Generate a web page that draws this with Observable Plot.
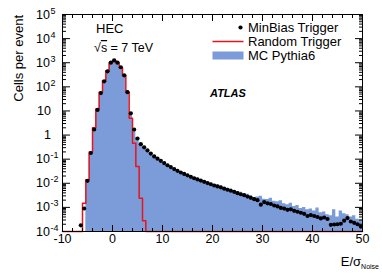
<!DOCTYPE html>
<html><head><meta charset="utf-8">
<script src="https://cdn.jsdelivr.net/npm/d3@7"></script>
<script src="https://cdn.jsdelivr.net/npm/@observablehq/plot@0.6"></script>
<style>body{margin:0;background:#fff;} svg{font-family:"Liberation Sans",Arial,sans-serif;}</style>
</head><body><div id="chart"></div>
<script>
// ---- data (histogram bins of width 2/3 starting at -10) ----
const binStart = -10, binWidth = 2/3, nBins = 90;
const minBiasFirstBin = 5;
const minBias = [1.8e-4, 9e-4, 0.0126, 0.18, 1.7, 11, 55, 170, 440, 1000, 1250, 1000, 650, 300, 60, 8, 1.7,
  0.72, 0.42, 0.31, 0.23, 0.17, 0.13, 0.105, 0.085, 0.069, 0.056, 0.047, 0.039, 0.033, 0.028, 0.0245, 0.0214,
  0.0186, 0.0162, 0.0145, 0.0129, 0.0115, 0.0102, 0.0091, 0.0081, 0.0074, 0.0068, 0.0060, 0.0054, 0.0049, 0.0044,
  0.0039, 0.0035, 0.0032, 0.0028, 0.0025, 0.0022, 0.0020, 0.0013, 0.00166, 0.00148, 0.00138, 0.0012, 0.0011,
  0.00095, 0.00089, 0.00079, 0.00083, 0.00072, 0.00066, 0.0006, 0.00054, 0.00044, 0.00048, 0.00044, 0.0004,
  0.00035, 0.00038, 0.00033, 0.00019, 0.000195, 0.0002, 0.00021, 0.00028, 0.00036, 0.00026, 0.00023, 0.0002, 0.00016];
const randomFirstBin = 6;
const randomTrig = [1.5e-3, 0.014, 0.2, 2.0, 12, 60, 180, 460, 1000, 1250, 1000, 620, 300, 60, 5, 0.46, 0.05, 0.0024, 2.8e-4];
const mcFirstBin = 7;
const mcPythia = [0.012, 0.17, 1.8, 11, 58, 175, 450, 1000, 1250, 1000, 640, 310, 70, 8, 1.6,
  0.75, 0.45, 0.33, 0.25, 0.18, 0.14, 0.11, 0.09, 0.073, 0.06, 0.05, 0.042, 0.035, 0.030, 0.026, 0.023,
  0.020, 0.0178, 0.016, 0.0143, 0.0126, 0.0112, 0.0103, 0.0091, 0.0084, 0.0077, 0.0066, 0.0062, 0.0058, 0.0049,
  0.0046, 0.0042, 0.0036, 0.0035, 0.0031, 0.0026, 0.0027, 0.0029, 0.0022, 0.0021, 0.0024, 0.0018, 0.0017, 0.0019,
  0.0014, 0.0013, 0.0015, 0.0011, 0.0012, 0.0009, 0.0010, 0.0008, 0.00085, 0.0007, 0.00095, 0.0006, 0.00065,
  0.0005, 0.00045, 0.0008, 0.0004, 0.0007, 0.00055, 0.0005, 0.0004, 0.00045, 0.00032, 0.0003];
const xMajorTicks = [-10, 0, 10, 20, 30, 40, 50];
const xMinorTicks = [-8, -6, -4, -2, 2, 4, 6, 8, 12, 14, 16, 18, 22, 24, 26, 28, 32, 34, 36, 38, 42, 44, 46, 48];
const yMajorTicks = [1e-4, 1e-3, 1e-2, 1e-1, 1, 10, 1e2, 1e3, 1e4, 1e5];
const yLabels = [
  {v: 1e5, base: "10", exp: "5"}, {v: 1e4, base: "10", exp: "4"}, {v: 1e3, base: "10", exp: "3"},
  {v: 1e2, base: "10", exp: "2"}, {v: 10, base: "10", exp: ""}, {v: 1, base: "1", exp: ""},
  {v: 1e-1, base: "10", exp: "-1"}, {v: 1e-2, base: "10", exp: "-2"}, {v: 1e-3, base: "10", exp: "-3"},
  {v: 1e-4, base: "10", exp: "-4"}];
const yFloor = 1e-4;

// ---- build tables ----
const yMinorTicks = [];
for (const d of yMajorTicks.slice(0, -1)) for (let m = 2; m <= 9; m++) yMinorTicks.push(m * d);
const edge = k => binStart + k * binWidth;
const mcPts = mcPythia.map((v, i) => ({x: edge(mcFirstBin + i), v}));
mcPts.push({x: edge(mcFirstBin + mcPythia.length), v: mcPythia[mcPythia.length - 1]});
const dots = minBias.map((v, i) => ({x: edge(minBiasFirstBin + i) + binWidth / 2, v}));
const redPts = [];
for (let k = 0; k < nBins; k++) {
  const j = k - randomFirstBin;
  const v = (j >= 0 && j < randomTrig.length) ? randomTrig[j] : 0;
  redPts.push({x: edge(k), v: Math.max(v, yFloor)});
}
redPts.push({x: edge(nBins), v: redPts[redPts.length - 1].v});

const blue = "#7b9cd8", red = "#e8141c";
const noLabel = () => "";
const plot = Plot.plot({
  width: 382, height: 276,
  marginLeft: 62, marginRight: 20, marginTop: 14, marginBottom: 45,
  style: {fontFamily: "Liberation Sans, Arial, sans-serif", fontSize: "12.5px", background: "white"},
  x: {domain: [-10, 50]},
  y: {type: "log", domain: [1e-4, 1e5]},
  marks: [
    Plot.areaY(mcPts, {x: "x", y1: yFloor, y2: "v", curve: "step-after", fill: blue}),
    Plot.line(redPts, {x: "x", y: "v", curve: "step-after", stroke: red, strokeWidth: 1.5}),
    Plot.dot(dots, {x: "x", y: "v", r: 2.1, fill: "black"}),
    Plot.frame({stroke: "black", strokeWidth: 1}),
    Plot.axisX({anchor: "bottom", ticks: xMajorTicks, tickSize: -6, tickPadding: 9, tickFormat: d => String(d), label: null, fontSize: 12.5}),
    Plot.axisX({anchor: "bottom", ticks: xMinorTicks, tickSize: -3, tickFormat: noLabel, label: null}),
    Plot.axisX({anchor: "top", ticks: xMajorTicks, tickSize: -6, tickFormat: noLabel, label: null}),
    Plot.axisX({anchor: "top", ticks: xMinorTicks, tickSize: -3, tickFormat: noLabel, label: null}),
    Plot.axisY({anchor: "left", ticks: yMajorTicks, tickSize: -8, tickFormat: noLabel, label: null}),
    Plot.axisY({anchor: "left", ticks: yMinorTicks, tickSize: -4, tickFormat: noLabel, label: null}),
    Plot.axisY({anchor: "right", ticks: yMajorTicks, tickSize: -8, tickFormat: noLabel, label: null}),
    Plot.axisY({anchor: "right", ticks: yMinorTicks, tickSize: -4, tickFormat: noLabel, label: null})
  ]
});
document.getElementById("chart").appendChild(plot);

// ---- y tick labels with superscripts, positioned via Plot's y scale ----
const svg = d3.select(plot);
const ys = plot.scale("y");
const lab = svg.append("g").attr("font-size", 12.5).attr("fill", "black").attr("text-anchor", "start");
for (const t of yLabels) {
  const yp = ys.apply(t.v);
  if (t.exp) {
    lab.append("text").attr("x", 50).attr("y", yp + 4.5).attr("text-anchor", "end").text(t.base);
    lab.append("text").attr("x", 50.5).attr("y", yp - 0.5).attr("text-anchor", "start").attr("font-size", 9).text(t.exp);
  } else {
    lab.append("text").attr("x", 51).attr("y", yp + 4.5).attr("text-anchor", "end").text(t.base);
  }
}
// axis titles
svg.append("text").attr("transform", "translate(22.5,15) rotate(-90)").attr("text-anchor", "end")
  .attr("font-size", 13).text("Cells per event");
const xt = svg.append("text").attr("x", 379).attr("y", 266).attr("text-anchor", "end").attr("font-size", 13);
xt.append("tspan").text("E/σ");
xt.append("tspan").attr("font-size", 7).attr("dy", 3).text("Noise");
// annotations
const ann = svg.append("g").attr("text-anchor", "start").attr("fill", "black");
ann.append("text").attr("x", 96).attr("y", 33).attr("font-size", 13).text("HEC");
const rs = ann.append("text").attr("x", 94).attr("y", 52).attr("font-size", 12.5);
rs.append("tspan").text("√");
rs.append("tspan").attr("text-decoration", "overline").style("text-decoration", "overline").text("s");
rs.append("tspan").text(" = 7 TeV");
ann.append("text").attr("x", 210).attr("y", 97).attr("font-size", 11).attr("font-weight", "bold")
  .attr("font-style", "italic").text("ATLAS");
// legend
const lg = svg.append("g").attr("font-size", 13).attr("text-anchor", "start");
lg.append("circle").attr("cx", 240.5).attr("cy", 27.5).attr("r", 2.1).attr("fill", "black");
lg.append("text").attr("x", 248).attr("y", 32).text("MinBias Trigger");
lg.append("line").attr("x1", 212.5).attr("x2", 243.5).attr("y1", 41.5).attr("y2", 41.5).attr("stroke", red).attr("stroke-width", 1.5);
lg.append("text").attr("x", 248).attr("y", 46).text("Random Trigger");
lg.append("rect").attr("x", 212.5).attr("y", 51.5).attr("width", 31).attr("height", 8).attr("fill", blue);
lg.append("text").attr("x", 248).attr("y", 60).text("MC Pythia6");
</script></body></html>
